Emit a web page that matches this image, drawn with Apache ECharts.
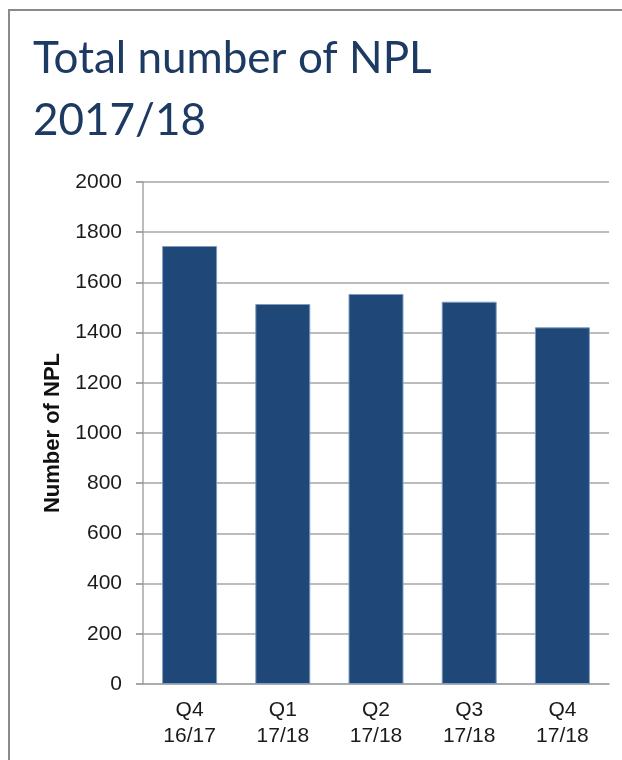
<!DOCTYPE html>
<html>
<head>
<meta charset="utf-8">
<script src="https://cdn.jsdelivr.net/npm/echarts@6/dist/echarts.min.js"></script>
<style>
  html, body { margin: 0; padding: 0; background: #ffffff; }
  #chart { width: 622px; height: 760px; }
</style>
</head>
<body>
<div id="chart"></div>
<script>
// Quarterly count of non-performing loans
const quarters = ['Q4\n16/17', 'Q1\n17/18', 'Q2\n17/18', 'Q3\n17/18', 'Q4\n17/18'];
const nplCounts = [1745, 1514, 1554, 1523, 1421];
const yTicks = [0, 200, 400, 600, 800, 1000, 1200, 1400, 1600, 1800, 2000];

const chart = echarts.init(document.getElementById('chart'), null, { renderer: 'canvas' });

chart.setOption({
  animation: false,
  backgroundColor: '#ffffff',
  title: {
    text: 'Total number of NPL\n2017/18',
    left: 28,
    top: 23,
    textStyle: {
      fontFamily: 'Lato',
      fontWeight: 'normal',
      fontSize: 44,
      lineHeight: 62,
      color: '#1c3a62'
    }
  },
  graphic: [{
    type: 'rect',
    shape: { x: 9, y: 10, width: 640, height: 780 },
    style: { fill: 'none', stroke: '#8a8a8a', lineWidth: 2 },
    silent: true
  }],
  grid: { left: 143, right: 13, top: 182, bottom: 76 },
  xAxis: {
    type: 'category',
    data: quarters,
    axisLine: { show: true, lineStyle: { color: '#a6a6a6', width: 1.5 } },
    axisTick: { show: false },
    axisLabel: {
      color: '#1a1a1a',
      fontFamily: 'Liberation Sans',
      fontSize: 21,
      lineHeight: 26,
      margin: 13
    }
  },
  yAxis: {
    type: 'value',
    min: yTicks[0],
    max: yTicks[yTicks.length - 1],
    interval: 200,
    name: 'Number of NPL',
    nameLocation: 'middle',
    nameRotate: 90,
    nameGap: 73,
    nameTextStyle: {
      color: '#111111',
      fontFamily: 'Liberation Sans',
      fontWeight: 'bold',
      fontSize: 22
    },
    axisLine: { show: true, lineStyle: { color: '#a6a6a6', width: 1.5 } },
    axisTick: { show: true, length: 7, lineStyle: { color: '#8c8c8c', width: 1.5 } },
    axisLabel: {
      color: '#1a1a1a',
      fontFamily: 'Liberation Sans',
      fontSize: 21,
      margin: 21,
      formatter: (v) => String(v)
    },
    splitLine: { show: true, lineStyle: { color: '#a6a6a6', width: 1.5 } }
  },
  series: [{
    type: 'bar',
    data: nplCounts,
    barWidth: '59%',
    itemStyle: {
      color: '#1f4879',
      borderColor: '#7f9cc0',
      borderWidth: 1
    }
  }]
});
</script>
</body>
</html>
